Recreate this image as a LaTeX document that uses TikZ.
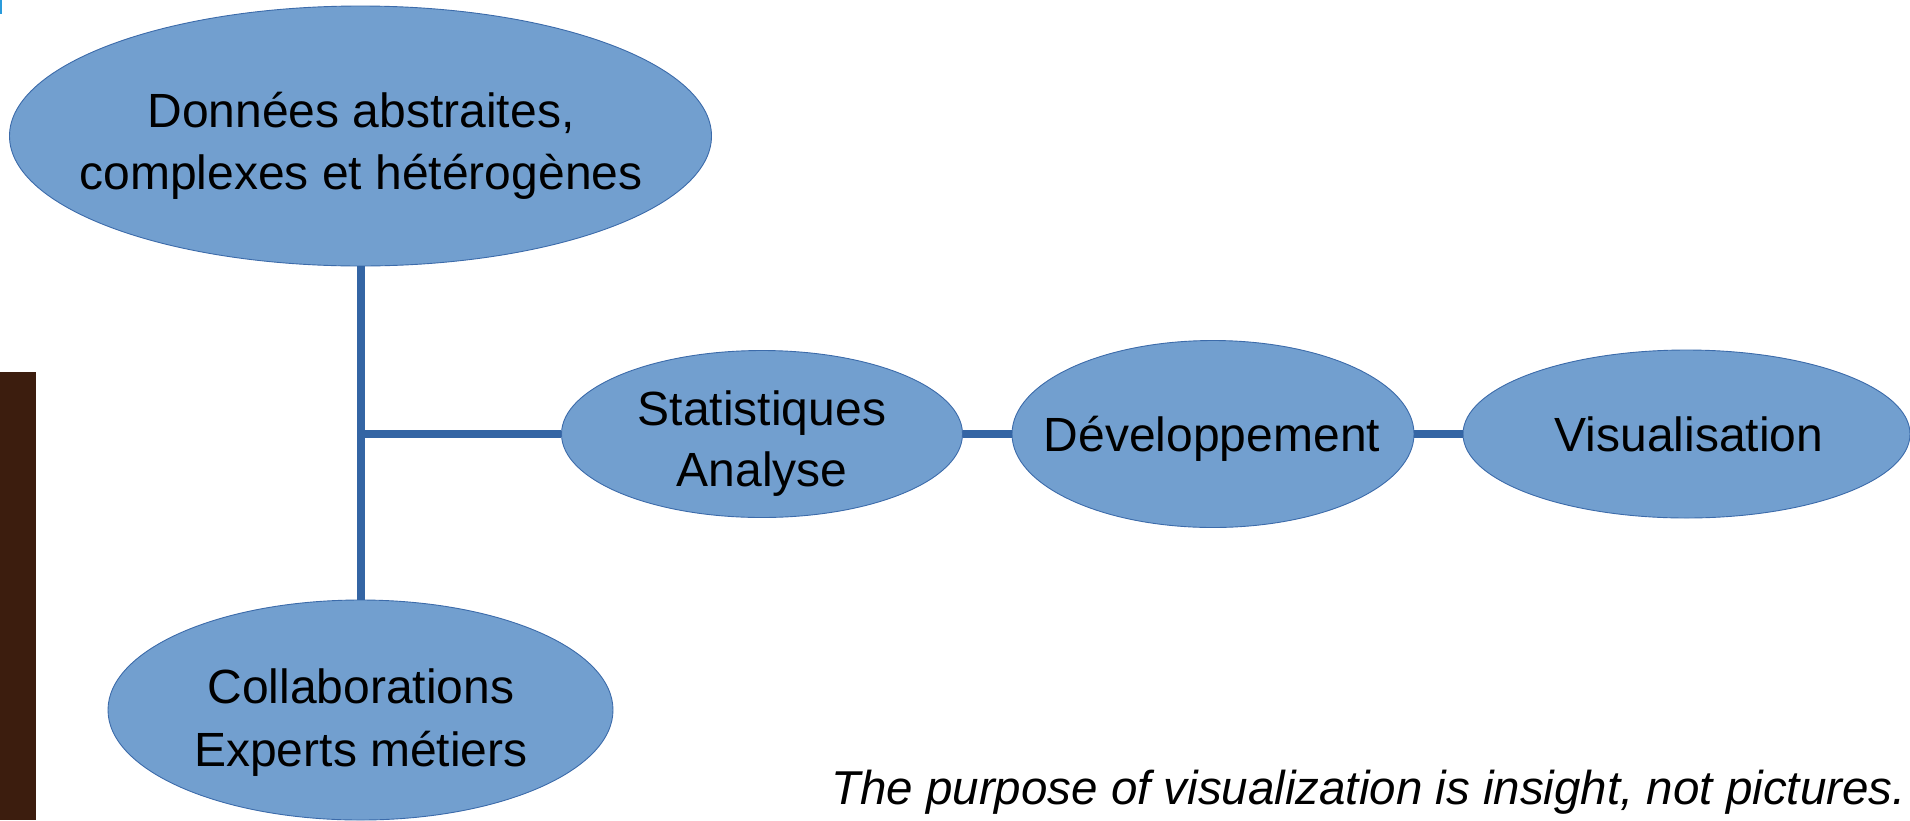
\documentclass[tikz,border=0pt]{standalone}
\usepackage{fontspec}
\setmainfont{Liberation Sans}
\usetikzlibrary{shapes.geometric}
\definecolor{blobfill}{HTML}{729FCF}
\definecolor{blobline}{HTML}{3C6BAA}
\definecolor{linkcol}{HTML}{3465A4}
\definecolor{barbrown}{HTML}{3C1D0E}
\definecolor{markcyan}{HTML}{2A9BDB}
\tikzset{
  blob/.style={ellipse, fill=blobfill, draw=blobline, line width=0.9pt, inner sep=0pt},
  link/.style={draw=linkcol, line width=8pt},
  lbl/.style={anchor=base, inner sep=0pt, font=\fontsize{48}{57}\selectfont},
  quote/.style={anchor=base east, inner sep=0pt, font=\fontsize{47.5}{57}\selectfont\itshape}
}
\begin{document}
\begin{tikzpicture}[x=1pt,y=-1pt]
\useasboundingbox (0,0) rectangle (1910,820);
\clip (0,0) rectangle (1910,820);
% left bar and corner mark
\fill[barbrown] (0,372) rectangle (36,820);
\fill[markcyan] (0,0) rectangle (2,14);
% ellipses
\node[blob, minimum width=702pt, minimum height=260pt] (top) at (360.5,136) {};
\node[blob, minimum width=505pt, minimum height=220pt] (bot) at (360.5,710) {};
\node[blob, minimum width=401pt, minimum height=167pt] (stat) at (762,434) {};
\node[blob, minimum width=402pt, minimum height=187pt] (dev) at (1213,434) {};
\node[blob, minimum width=447pt, minimum height=168pt] (vis) at (1686.5,434) {};
% connectors
\coordinate (j) at (360.5,434);
\draw[link] (top.south) -- (bot.north);
\draw[link] (j) -- (stat.west);
\draw[link] (stat.east) -- (dev.west);
\draw[link] (dev.east) -- (vis.west);
% texts
\node[lbl] (t1) at (361,127) {Données abstraites,};
\node[lbl] (t2) at (361,189) {complexes et hétérogènes};
\node[lbl] (b1) at (361,703) {Collaborations};
\node[lbl] (b2) at (361,766) {Experts métiers};
\node[lbl] (s1) at (762,425) {Statistiques};
\node[lbl] (s2) at (762,486) {Analyse};
\node[lbl] (d1) at (1212,451) {Développement};
\node[lbl] (v1) at (1689,451) {Visualisation};
\node[quote] (q) at (1906,804) {The purpose of visualization is insight, not pictures.};
\end{tikzpicture}
\end{document}
